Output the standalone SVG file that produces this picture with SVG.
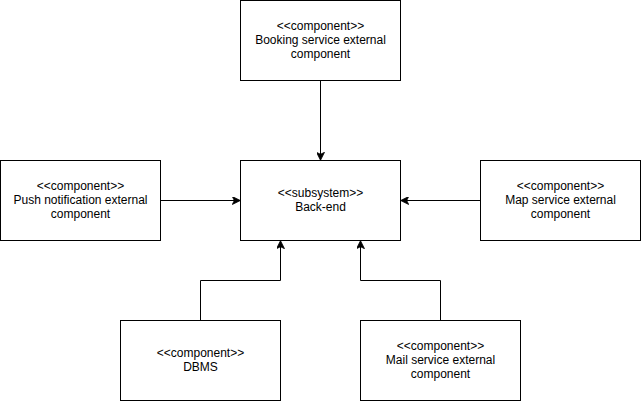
<svg xmlns="http://www.w3.org/2000/svg" width="641" height="402" viewBox="0 0 641 402">
<style>
.box{fill:#fff;stroke:#000;stroke-width:1}
.lbl{font-family:"Liberation Sans",Arial,Helvetica,sans-serif;font-size:12px;fill:#000;text-anchor:middle}
.edge{fill:none;stroke:#000;stroke-width:1}
</style>
<defs>
<marker id="arr" viewBox="0 0 10 10" refX="9" refY="5" markerWidth="8" markerHeight="8" markerUnits="userSpaceOnUse" orient="auto">
<path d="M0,0 L10,5 L0,10 L2.5,5 Z" fill="#000" stroke="#000" stroke-width="1"/>
</marker>
</defs>
<rect width="641" height="402" fill="#fff"/>
<g id="edges">
<path class="edge" d="M320.5,80.5 L320.5,159.5" marker-end="url(#arr)"/>
<path class="edge" d="M160.5,200.5 L239.5,200.5" marker-end="url(#arr)"/>
<path class="edge" d="M480.5,200.5 L401.5,200.5" marker-end="url(#arr)"/>
<path class="edge" d="M200.5,320.5 L200.5,280.5 L280.5,280.5 L280.5,241.5" marker-end="url(#arr)"/>
<path class="edge" d="M440.5,320.5 L440.5,280.5 L360.5,280.5 L360.5,241.5" marker-end="url(#arr)"/>
</g>
<g id="booking">
<rect class="box" x="240.5" y="0.5" width="160" height="80"/>
<text class="lbl" x="320.5" y="30">&lt;&lt;component&gt;&gt;</text>
<text class="lbl" x="320.5" y="44">Booking service external</text>
<text class="lbl" x="320.5" y="58">component</text>
</g>
<g id="push">
<rect class="box" x="0.5" y="160.5" width="160" height="80"/>
<text class="lbl" x="80.5" y="190">&lt;&lt;component&gt;&gt;</text>
<text class="lbl" x="80.5" y="204">Push notification external</text>
<text class="lbl" x="80.5" y="218">component</text>
</g>
<g id="backend">
<rect class="box" x="240.5" y="160.5" width="160" height="80"/>
<text class="lbl" x="320.5" y="197">&lt;&lt;subsystem&gt;&gt;</text>
<text class="lbl" x="320.5" y="211">Back-end</text>
</g>
<g id="map">
<rect class="box" x="480.5" y="160.5" width="160" height="80"/>
<text class="lbl" x="560.5" y="190">&lt;&lt;component&gt;&gt;</text>
<text class="lbl" x="560.5" y="204">Map service external</text>
<text class="lbl" x="560.5" y="218">component</text>
</g>
<g id="dbms">
<rect class="box" x="120.5" y="320.5" width="160" height="80"/>
<text class="lbl" x="200.5" y="357">&lt;&lt;component&gt;&gt;</text>
<text class="lbl" x="200.5" y="371">DBMS</text>
</g>
<g id="mail">
<rect class="box" x="360.5" y="320.5" width="160" height="80"/>
<text class="lbl" x="440.5" y="350">&lt;&lt;component&gt;&gt;</text>
<text class="lbl" x="440.5" y="364">Mail service external</text>
<text class="lbl" x="440.5" y="378">component</text>
</g>
</svg>
